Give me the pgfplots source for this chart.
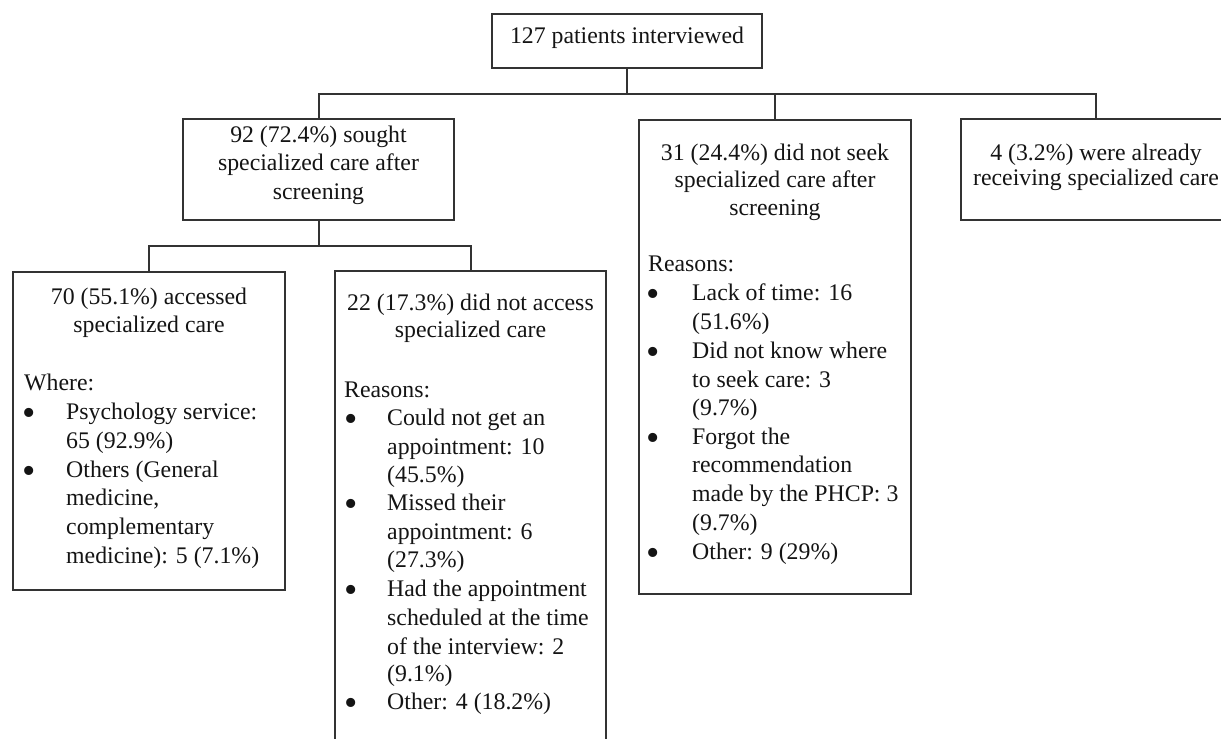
\documentclass[border=0pt]{standalone}
\usepackage{fontspec}
\setmainfont{Liberation Serif}
\usepackage{pgfplots}
\pgfplotsset{compat=1.18}
\newcommand\fs{\fontsize{23.8}{28}\selectfont}
\tikzset{
  t/.style={anchor=mid, inner sep=0pt, font=\fs, text=black!92},
  tl/.style={anchor=mid west, inner sep=0pt, font=\fs, text=black!92},
  bu/.style={anchor=center, inner sep=0pt, font=\fontsize{38}{38}\selectfont, text=black!92},
}
\pgfplotsset{ln/.style={draw=black!80, line width=1.5pt, line cap=rect, line join=miter, mark=none}}
\begin{document}
\begin{tikzpicture}
\begin{axis}[
  width=1221pt, height=739pt, scale only axis,
  xmin=0, xmax=1221, ymin=0, ymax=739, y dir=reverse,
  hide axis, clip=false,
]
% connectors
\addplot[ln] coordinates {(627,68) (627,94)};
\addplot[ln] coordinates {(319,94) (1096,94)};
\addplot[ln] coordinates {(319,94) (319,119)};
\addplot[ln] coordinates {(775,94) (775,120)};
\addplot[ln] coordinates {(1096,94) (1096,119)};
\addplot[ln] coordinates {(319,220) (319,246)};
\addplot[ln] coordinates {(149,246) (471,246)};
\addplot[ln] coordinates {(149,246) (149,272)};
\addplot[ln] coordinates {(471,246) (471,271)};
% boxes
\addplot[ln] coordinates {(492,14) (762,14) (762,68) (492,68) (492,14)};
\addplot[ln] coordinates {(183,119) (454,119) (454,220) (183,220) (183,119)};
\addplot[ln] coordinates {(639,120) (911,120) (911,594) (639,594) (639,120)};
\addplot[ln] coordinates {(961,119) (1235,119) (1235,220) (961,220) (961,119)};
\addplot[ln] coordinates {(13,272) (285,272) (285,590) (13,590) (13,272)};
\addplot[ln] coordinates {(335,760) (335,271) (606,271) (606,760)};

% texts
\node[t] at (627,41) {127 patients interviewed};

\node[t] at (318.5,140) {92 (72.4\%) sought};
\node[t] at (318.5,168) {specialized care after};
\node[t] at (318.5,197) {screening};

\node[t] at (775,158) {31 (24.4\%) did not seek};
\node[t] at (775,185) {specialized care after};
\node[t] at (775,213) {screening};
\node[tl] at (648,269) {Reasons:};
\node[bu] at (653,298) {\textbullet};
\node[tl] at (692,298) {Lack of time: 16};
\node[tl] at (692,327) {(51.6\%)};
\node[bu] at (653,356) {\textbullet};
\node[tl] at (692,356) {Did not know where};
\node[tl] at (692,385) {to seek care: 3};
\node[tl] at (692,413) {(9.7\%)};
\node[bu] at (653,442) {\textbullet};
\node[tl] at (692,442) {Forgot the};
\node[tl] at (692,470) {recommendation};
\node[tl] at (692,499) {made by the PHCP: 3};
\node[tl] at (692,528) {(9.7\%)};
\node[bu] at (653,557) {\textbullet};
\node[tl] at (692,557) {Other: 9 (29\%)};

\node[t] at (1096,158) {4 (3.2\%) were already};
\node[t] at (1096,183) {receiving specialized care};

\node[t] at (149,302) {70 (55.1\%) accessed};
\node[t] at (149,330) {specialized care};
\node[tl] at (24,388) {Where:};
\node[bu] at (29,417) {\textbullet};
\node[tl] at (66,417) {Psychology service:};
\node[tl] at (66,446) {65 (92.9\%)};
\node[bu] at (29,475) {\textbullet};
\node[tl] at (66,475) {Others (General};
\node[tl] at (66,503) {medicine,};
\node[tl] at (66,532) {complementary};
\node[tl] at (66,561) {medicine): 5 (7.1\%)};

\node[t] at (470.5,308) {22 (17.3\%) did not access};
\node[t] at (470.5,335) {specialized care};
\node[tl] at (344,395) {Reasons:};
\node[bu] at (351,423) {\textbullet};
\node[tl] at (387,423) {Could not get an};
\node[tl] at (387,452) {appointment: 10};
\node[tl] at (387,480) {(45.5\%)};
\node[bu] at (351,508) {\textbullet};
\node[tl] at (387,508) {Missed their};
\node[tl] at (387,537) {appointment: 6};
\node[tl] at (387,565) {(27.3\%)};
\node[bu] at (351,594) {\textbullet};
\node[tl] at (387,594) {Had the appointment};
\node[tl] at (387,623) {scheduled at the time};
\node[tl] at (387,652) {of the interview: 2};
\node[tl] at (387,679) {(9.1\%)};
\node[bu] at (351,707) {\textbullet};
\node[tl] at (387,707) {Other: 4 (18.2\%)};
\end{axis}
\pgfresetboundingbox
\path (current axis.south west) rectangle (current axis.north east);
\end{tikzpicture}
\end{document}
